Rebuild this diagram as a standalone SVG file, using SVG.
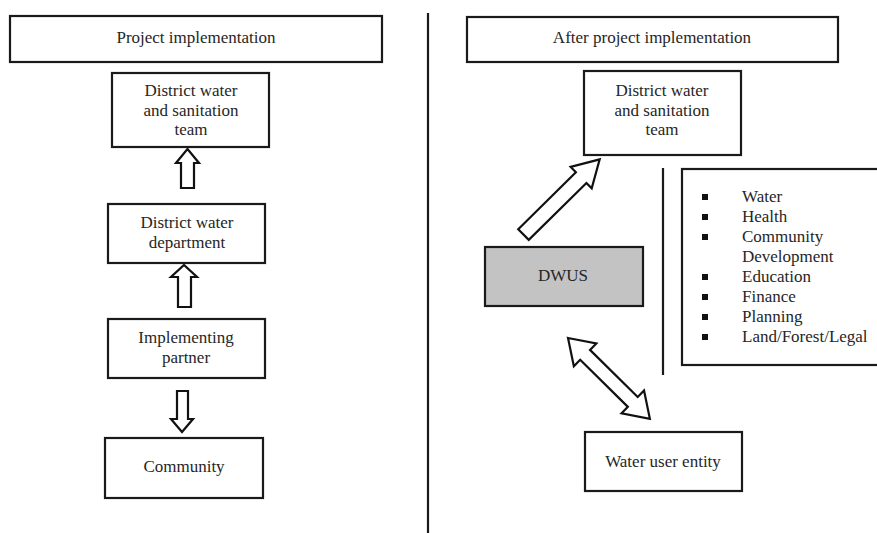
<svg xmlns="http://www.w3.org/2000/svg" width="877" height="533" viewBox="0 0 877 533">
<style>
.box{fill:#fff;stroke:#1a1a1a;stroke-width:2.2}
.grey{fill:#c3c3c3;stroke:#1a1a1a;stroke-width:2.2}
.t{font-family:"Liberation Serif","Times New Roman",serif;font-size:17px;fill:#262626;text-anchor:middle}
.l{font-family:"Liberation Serif","Times New Roman",serif;font-size:17px;fill:#262626}
.arr{fill:#fff;stroke:#111;stroke-width:2.2;stroke-linejoin:miter}
.line{stroke:#1a1a1a;stroke-width:2.2}
</style>
<rect width="877" height="533" fill="#fff"/>
<line class="line" x1="428" y1="13" x2="428" y2="533"/>

<g id="project-implementation">
<rect class="box" x="10" y="16" width="372" height="46"/>
<text class="t" x="196" y="43">Project implementation</text>
</g>
<g id="dwst-left">
<rect class="box" x="112" y="73" width="157" height="74"/>
<text class="t" x="191" y="96">District water</text>
<text class="t" x="191" y="115.5">and sanitation</text>
<text class="t" x="191" y="135">team</text>
</g>
<g id="district-water-department">
<rect class="box" x="108" y="204" width="157" height="59"/>
<text class="t" x="187" y="228">District water</text>
<text class="t" x="187" y="248">department</text>
</g>
<g id="implementing-partner">
<rect class="box" x="108" y="319" width="157" height="59"/>
<text class="t" x="186" y="343">Implementing</text>
<text class="t" x="186" y="363">partner</text>
</g>
<g id="community">
<rect class="box" x="105" y="438" width="158" height="60"/>
<text class="t" x="184" y="472">Community</text>
</g>

<g id="after-project-implementation">
<rect class="box" x="467" y="17" width="371" height="45"/>
<text class="t" x="652" y="43">After project implementation</text>
</g>
<g id="dwst-right">
<rect class="box" x="584" y="71" width="157" height="84"/>
<text class="t" x="662" y="96">District water</text>
<text class="t" x="662" y="115.5">and sanitation</text>
<text class="t" x="662" y="135">team</text>
</g>
<g id="dwus">
<rect class="grey" x="485" y="247" width="158" height="59"/>
<text class="t" x="563" y="281" fill="#333">DWUS</text>
</g>
<g id="sectors">
<rect class="box" x="682" y="169" width="200" height="196"/>
<g fill="#111">
<rect x="702" y="194" width="6" height="6"/>
<rect x="702" y="214" width="6" height="6"/>
<rect x="702" y="234" width="6" height="6"/>
<rect x="702" y="274" width="6" height="6"/>
<rect x="702" y="294" width="6" height="6"/>
<rect x="702" y="314" width="6" height="6"/>
<rect x="702" y="334" width="6" height="6"/>
</g>
<text class="l" x="742" y="202">Water</text>
<text class="l" x="742" y="222">Health</text>
<text class="l" x="742" y="242">Community</text>
<text class="l" x="742" y="262">Development</text>
<text class="l" x="742" y="282">Education</text>
<text class="l" x="742" y="302">Finance</text>
<text class="l" x="742" y="322">Planning</text>
<text class="l" x="742" y="342">Land/Forest/Legal</text>
</g>
<g id="water-user-entity">
<rect class="box" x="585" y="432" width="157" height="59"/>
<text class="t" x="663" y="467">Water user entity</text>
</g>

<g id="connectors">
<line class="line" x1="663" y1="168" x2="663" y2="375"/>
<!-- up arrow DWD -> DWST -->
<path class="arr" d="M181,188 V163 H176 L187.5,149 L199,163 H194 V188 Z"/>
<!-- up arrow IP -> DWD -->
<path class="arr" d="M178,307 V277 H171 L184,265 L197,277 H191 V307 Z"/>
<!-- down arrow IP -> Community -->
<path class="arr" d="M177,391 V419 H171 L182,432 L193,419 H188 V391 Z"/>
<!-- diagonal DWUS -> DWST -->
<path class="arr" transform="translate(523.5,234.5) rotate(-44.6)" d="M0,-7.5 H81 V-15 L107,0 L81,15 V7.5 H0 Z"/>
<!-- double arrow DWUS <-> WUE -->
<path class="arr" transform="translate(568,338) rotate(44.6)" d="M0,0 L24,-16 V-7 H91 V-16 L115,0 L91,16 V7 H24 V16 Z"/>
</g>
</svg>
